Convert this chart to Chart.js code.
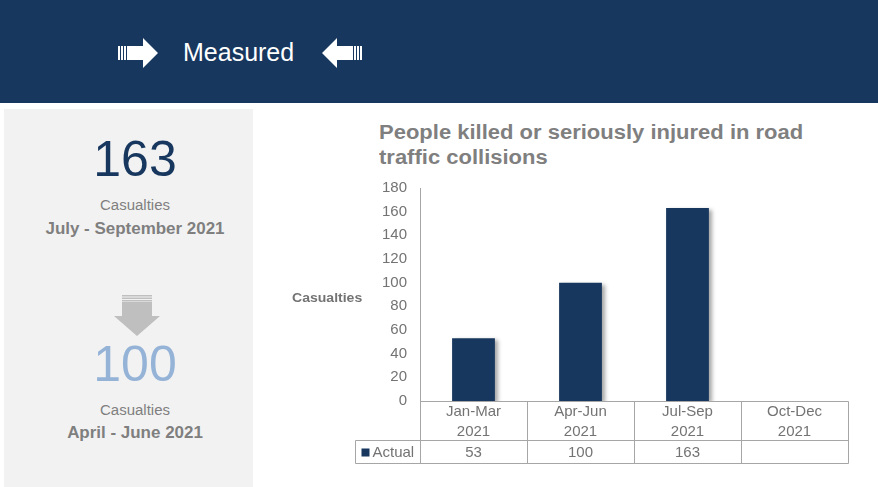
<!DOCTYPE html>
<html>
<head>
<meta charset="utf-8">
<script src="https://cdn.jsdelivr.net/npm/chart.js@4/dist/chart.umd.min.js"></script>
<style>
  body { margin:0; width:878px; height:487px; background:#fff; font-family:"Liberation Sans", Arial, sans-serif; position:relative; overflow:hidden; }
  .banner { position:absolute; left:0; top:0; width:878px; height:103px; background:#17375e; }
  .measured { position:absolute; left:183px; top:37px; font-size:25px; line-height:30px; color:#fff; }
  .panel { position:absolute; left:4px; top:109px; width:249px; height:378px; background:#f2f2f2; }
  .c { position:absolute; left:0; width:270px; text-align:center; white-space:nowrap; }
  .big { font-size:50px; line-height:50px; }
  .lbl { font-size:14px; line-height:16px; color:#7f7f7f; transform:scaleX(1.07); }
  .per { font-size:16px; line-height:18px; color:#7f7f7f; font-weight:bold; transform:scaleX(1.06); }
  .title { position:absolute; left:379px; top:120px; font-size:20px; line-height:25px; font-weight:bold; color:#7f7f7f; white-space:nowrap; transform:scaleX(1.1); transform-origin:left center; }
  #wrap { position:absolute; left:255px; top:108px; width:623px; height:379px; }
</style>
</head>
<body>
<div class="banner">
  <svg style="position:absolute;left:118px;top:38px" width="41" height="30" viewBox="0 0 41 30">
    <rect x="0" y="8" width="2" height="14" fill="#fff"/>
    <rect x="3" y="8" width="2" height="14" fill="#fff"/>
    <rect x="6" y="8" width="2" height="14" fill="#fff"/>
    <polygon points="9,8 25,8 25,0 40,15 25,30 25,22 9,22" fill="#fff"/>
  </svg>
  <div class="measured">Measured</div>
  <svg style="position:absolute;left:322px;top:38px" width="41" height="30" viewBox="0 0 41 30">
    <rect x="38" y="8" width="2" height="14" fill="#fff"/>
    <rect x="35" y="8" width="2" height="14" fill="#fff"/>
    <rect x="32" y="8" width="2" height="14" fill="#fff"/>
    <polygon points="31,8 15,8 15,0 0,15 15,30 15,22 31,22" fill="#fff"/>
  </svg>
</div>
<div class="panel"></div>
<div class="c big" id="curVal" style="top:134px;color:#17375e"></div>
<div class="c lbl" style="top:197px">Casualties</div>
<div class="c per" style="top:220px">July - September 2021</div>
<svg style="position:absolute;left:114px;top:295px" width="47" height="42" viewBox="0 0 47 42">
  <rect x="8" y="0" width="30" height="1.5" fill="#bfbfbf"/>
  <rect x="8" y="2.5" width="30" height="1.5" fill="#bfbfbf"/>
  <rect x="8" y="5" width="30" height="1.5" fill="#bfbfbf"/>
  <polygon points="8,7 38,7 38,21 46,21 23,41 0,21 8,21" fill="#bfbfbf"/>
</svg>
<div class="c big" id="prevVal" style="top:339px;color:#95b3d7"></div>
<div class="c lbl" style="top:402px">Casualties</div>
<div class="c per" style="top:424px">April - June 2021</div>
<div class="title">People killed or seriously injured in road<br>traffic collisions</div>
<div id="wrap"><canvas id="myChart"></canvas></div>
<script>
// chart data
const categories = [["Jan-Mar","2021"],["Apr-Jun","2021"],["Jul-Sep","2021"],["Oct-Dec","2021"]];
const actual = [53, 100, 163, null];
const seriesName = "Actual";
const yMax = 180;
const yStep = 20;

document.getElementById("curVal").textContent = actual[2];
document.getElementById("prevVal").textContent = actual[1];

const navy = "#17375e";
const lineGray = "#a6a6a6";
const textGray = "#737373";
const fontFam = "'Liberation Sans', Arial, sans-serif";

// bar shadow
const shadowPlugin = {
  id: "shadow",
  beforeDatasetsDraw(chart) {
    const ctx = chart.ctx;
    ctx.save();
    ctx.shadowColor = "rgba(0,0,0,0.35)";
    ctx.shadowBlur = 4;
    ctx.shadowOffsetX = 3;
    ctx.shadowOffsetY = 2;
  },
  afterDatasetsDraw(chart) { chart.ctx.restore(); }
};

// data table under the axis + y title
const tablePlugin = {
  id: "dataTable",
  afterDraw(chart) {
    const ctx = chart.ctx, a = chart.chartArea, x = chart.scales.x;
    const colW = (a.right - a.left) / categories.length;
    const L = Math.round(a.left) + 0.5, R = Math.round(a.right) + 0.5;
    const top = Math.round(a.bottom) + 0.5;
    const mid = top + 39, bot = top + 62;
    const legL = L - 65;
    ctx.save();
    ctx.strokeStyle = lineGray;
    ctx.lineWidth = 1;
    ctx.beginPath();
    ctx.moveTo(L, Math.round(a.top)); ctx.lineTo(L, bot);
    ctx.moveTo(L, top); ctx.lineTo(R, top);
    ctx.moveTo(legL, mid); ctx.lineTo(R, mid);
    ctx.moveTo(legL, bot); ctx.lineTo(R, bot);
    ctx.moveTo(legL, mid); ctx.lineTo(legL, bot);
    for (let i = 1; i <= categories.length; i++) {
      const bx = Math.round(a.left + colW * i) + 0.5;
      ctx.moveTo(bx, top); ctx.lineTo(bx, bot);
    }
    ctx.stroke();

    ctx.fillStyle = textGray;
    ctx.font = "15px " + fontFam;
    ctx.textAlign = "center";
    ctx.textBaseline = "middle";
    categories.forEach((c, i) => {
      const cx = x.getPixelForValue(i);
      ctx.fillText(c[0], cx, top + 10);
      ctx.fillText(c[1], cx, top + 30);
      if (actual[i] != null) ctx.fillText(actual[i], cx, mid + 12);
    });
    ctx.fillStyle = navy;
    ctx.fillRect(legL + 6, mid + 8, 8, 8);
    ctx.fillStyle = textGray;
    ctx.textAlign = "left";
    ctx.fillText(seriesName, legL + 17, mid + 12);

    ctx.font = "bold 13px " + fontFam;
    ctx.translate(37, 190);
    ctx.scale(1.08, 1);
    ctx.fillText("Casualties", 0, 0);
    ctx.restore();
  }
};

new Chart(document.getElementById("myChart"), {
  type: "bar",
  data: {
    labels: categories,
    datasets: [{
      label: seriesName,
      data: actual,
      backgroundColor: navy,
      borderWidth: 0,
      barPercentage: 0.4,
      categoryPercentage: 1
    }]
  },
  options: {
    responsive: true,
    maintainAspectRatio: false,
    animation: false,
    layout: { padding: { left: 0, right: 30, top: 80, bottom: 86 } },
    plugins: { legend: { display: false }, tooltip: { enabled: false } },
    scales: {
      x: { display: false },
      y: {
        min: 0, max: yMax,
        afterFit(s) { s.width = 165; },
        grid: { display: false },
        border: { display: false },
        ticks: { stepSize: yStep, color: textGray, padding: 5, font: { size: 15, family: fontFam } }
      }
    }
  },
  plugins: [shadowPlugin, tablePlugin]
});
</script>
</body>
</html>
